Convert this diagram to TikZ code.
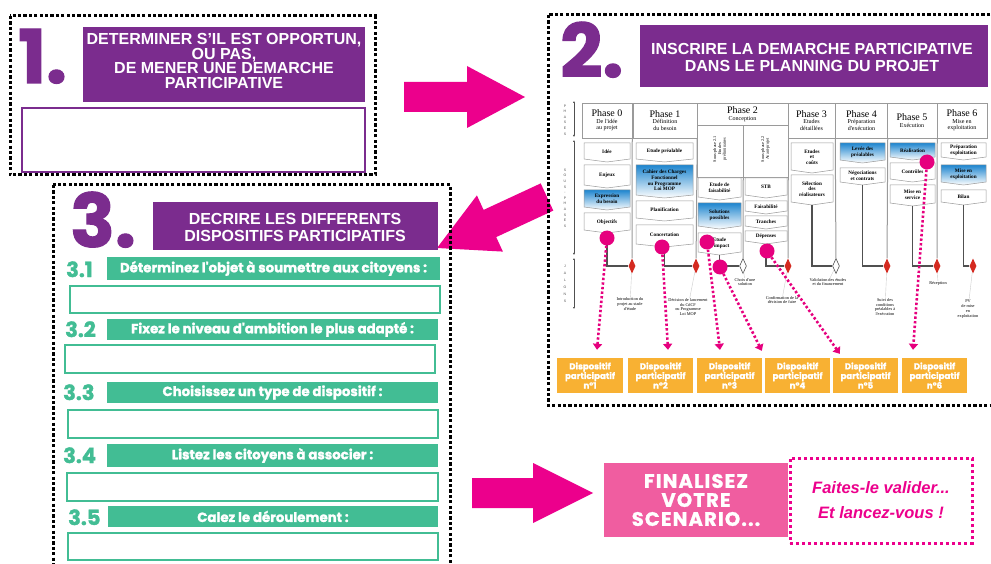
\documentclass[tikz,border=0pt]{standalone}
\usepackage{fontspec}
\setmainfont{Liberation Sans}
\newfontfamily\dispfont{Poppins}
\newfontfamily\numfont{Poppins}[FakeBold=1.5]
\newfontfamily\finfont{Poppins}[FakeBold=1.2,LetterSpace=6]
\newfontfamily\serfont{Liberation Serif}
\newcommand\phtitlefont{\serfont\fontsize{10}{10.5}\selectfont}
\usetikzlibrary{shapes.geometric,arrows.meta}
\definecolor{purp}{HTML}{7B2C8E}
\definecolor{grn}{HTML}{42BD94}
\definecolor{mag}{HTML}{EC008C}
\definecolor{pinkc}{HTML}{E6007E}
\definecolor{pinkbox}{HTML}{F05DA0}
\definecolor{amber}{HTML}{F8B133}
\definecolor{blueA}{HTML}{1F86CF}
\definecolor{lgray}{HTML}{9A9A9A}
\definecolor{dgray}{HTML}{505050}
\definecolor{dred}{HTML}{D42A20}
\tikzset{
  frame/.style={draw=black,line width=3pt,dash pattern=on 3.2pt off 2.2pt},
  pframe/.style={draw=mag,line width=3pt,dash pattern=on 3.4pt off 2.6pt},
  purplebox/.style={fill=purp,inner sep=0,draw=none},
  purpletext/.style={text=white,font=\bfseries\fontsize{16}{14.5}\selectfont,align=center,inner sep=0},
  bignum/.style={text=purp,font=\numfont\bfseries\fontsize{74}{74}\selectfont,inner sep=0,anchor=base west},
  subnum/.style={text=grn,font=\numfont\bfseries\fontsize{21}{21}\selectfont,inner sep=0,anchor=base west},
  gbar/.style={fill=grn,text=white,font=\numfont\bfseries\fontsize{13.3}{14}\selectfont,inner sep=0},
  gbox/.style={draw=grn,line width=1.6pt,fill=white,inner sep=0},
  wbox/.style={draw=purp,line width=1.3pt,fill=white,inner sep=0},
  phead/.style={draw=lgray,line width=0.5pt,fill=white,inner sep=0,align=center,font=\serfont\fontsize{6}{6.6}\selectfont},
  tbshape/.style={draw=lgray,line width=0.5pt,fill=white},
  bluesh/.style={top color=blueA,bottom color=white},
  tbtxt/.style={inner sep=0,align=center,font=\serfont\bfseries\fontsize{5.2}{5.6}\selectfont},
  reddia/.style={diamond,fill=dred,inner sep=0,minimum width=7pt,minimum height=15pt},
  whitedia/.style={diamond,draw=dgray,fill=white,line width=0.6pt,inner sep=0,minimum width=7pt,minimum height=15pt},
  divline/.style={draw=lgray,line width=1pt},
  flowline/.style={draw=dgray,line width=1.2pt},
  msline/.style={draw=lgray!50,line width=0.4pt},
  mstxt/.style={inner sep=0,align=center,font=\serfont\fontsize{4.3}{4.9}\selectfont},
  axtxt/.style={inner sep=0,align=center,font=\fontsize{3.5}{5.6}\selectfont,text=dgray},
  axline/.style={draw=dgray,line width=0.6pt,{Latex[length=2pt,width=2pt]}-{Latex[length=2pt,width=2pt]}},
  pdot/.style={circle,fill=pinkc,minimum size=15pt,inner sep=0},
  parrow/.style={draw=pinkc,line width=2.6pt,dash pattern=on 2.4pt off 2.2pt,-{Triangle[length=6pt,width=9pt]}},
  dispo/.style={fill=amber,text=white,inner sep=0,minimum width=66pt,minimum height=35pt,align=center,font=\numfont\bfseries\fontsize{8.6}{9.6}\selectfont},
}
\newcommand\tabbox[7]{%
  \path[tbshape,#6] (#2,#3) -- (#4,#3) -- (#4,#5-3) -- ({(#2+#4)/2},#5) -- (#2,#5-3) -- cycle;
  \coordinate (#1-b) at ({(#2+#4)/2},#5);
  \node[tbtxt] (#1) at ({(#2+#4)/2},{(#3+#5)/2-1}) {#7};}
\begin{document}
\begin{tikzpicture}[x=1pt,y=-1pt]
\useasboundingbox (0,0) rectangle (991,564);
\fill[white] (0,0) rectangle (991,564);

% big magenta arrows
\fill[mag] (404,82) -- (467,82) -- (467,66) -- (525,97) -- (467,128) -- (467,112) -- (404,112) -- cycle;
\fill[mag] (553.3,210.6) -- (496.2,237.1) -- (502.9,251.6) -- (437,248) -- (476.9,195.4) -- (483.6,209.9) -- (540.7,183.4) -- cycle;
\fill[mag] (472,478) -- (533,478) -- (533,463) -- (593,493) -- (533,523) -- (533,508) -- (472,508) -- cycle;

% frames
\draw[frame] (10,16) rectangle (375,175);
\draw[frame] (548,15) rectangle (1000,405);
\draw[frame] (53,185) rectangle (450,575);

% ---- block 1
\node[bignum] (n1) at (18,83) {1.};
\node[purplebox,minimum width=282pt,minimum height=75pt] (h1) at (224,64.5) {};
\node[purpletext] (h1t) at (224,61) {DETERMINER S'IL EST OPPORTUN,\\OU PAS,\\DE MENER UNE DEMARCHE\\PARTICIPATIVE};
\node[wbox,minimum width=343pt,minimum height=64pt] (ans1) at (193.5,140) {};

% ---- block 2
\node[bignum] (n2) at (560,77) {2.};
\node[purplebox,minimum width=348pt,minimum height=62pt] (h2) at (814,56) {};
\node[purpletext,font=\bfseries\fontsize{16}{17}\selectfont] (h2t) at (812,57) {INSCRIRE LA DEMARCHE PARTICIPATIVE\\DANS LE PLANNING DU PROJET};

% left axis
\draw[axline] (574,101) -- (574,137);
\draw[axline] (574,140) -- (574,255);
\draw[axline] (574,258) -- (574,309);
\node[axtxt] (axp) at (565,120) {P\\H\\A\\S\\E\\S};
\node[axtxt] (axs) at (565,198) {S\\O\\U\\S\\-\\P\\H\\A\\S\\E\\S};
\node[axtxt,font=\fontsize{3.5}{7}\selectfont] (axj) at (565,284) {J\\A\\L\\O\\N\\S};

% phase headers
\node[phead,minimum width=50pt,minimum height=35pt] (ph0) at (607,120.5) {{\phtitlefont Phase 0}\\De l'idée\\au projet};
\node[phead,minimum width=64pt,minimum height=35pt] (ph1) at (665,120.5) {{\phtitlefont Phase 1}\\Définition\\du besoin};
\node[phead,minimum width=91pt,minimum height=22pt] (ph2) at (742.5,114) {{\phtitlefont Phase 2}\\Conception};
\node[phead,minimum width=46pt,minimum height=52pt] (sub21) at (720,151) {};
\node[mstxt,rotate=90] (sub21t) at (720,149) {Sous-phase 2.1\\Etudes\\préliminaires};
\node[phead,minimum width=45pt,minimum height=52pt] (sub22) at (765.5,151) {};
\node[mstxt,rotate=90] (sub22t) at (765.5,149) {Sous-phase 2.2\\Avant-projet};
\node[phead,minimum width=47pt,minimum height=35pt] (ph3) at (811.5,120.5) {{\phtitlefont Phase 3}\\Etudes\\détaillées};
\node[phead,minimum width=52pt,minimum height=35pt] (ph4) at (861.5,120.5) {{\phtitlefont Phase 4}\\Préparation\\d'exécution};
\node[phead,minimum width=50pt,minimum height=35pt] (ph5) at (912,120.5) {{\phtitlefont Phase 5}\\Exécution};
\node[phead,minimum width=50pt,minimum height=35pt] (ph6) at (962,120.5) {{\phtitlefont Phase 6}\\Mise en\\exploitation};

% boxes
\tabbox{idee}{584}{143}{630}{162}{}{Idée}
\tabbox{enjeux}{584}{165}{630}{188}{}{Enjeux}
\tabbox{besoin}{584}{190}{630}{210}{bluesh}{Expression\\du besoin}
\tabbox{objectifs}{584}{213}{630}{233}{}{Objectifs}
\tabbox{etpre}{636}{143}{693}{162}{}{Etude préalable}
\tabbox{cdcf}{636}{165}{693}{198}{bluesh}{Cahier des Charges\\Fonctionnel\\ou Programme\\Loi MOP}
\tabbox{planif}{636}{201}{693}{221}{}{Planification}
\tabbox{concert}{636}{225}{693}{247}{}{Concertation}
\tabbox{faisab}{698}{178}{741}{200}{}{Etude de\\faisabilité}
\tabbox{solut}{698}{203}{741}{229}{bluesh}{Solutions\\possibles}
\tabbox{impact}{698}{233}{741}{255}{}{Etude\\d'impact}
\tabbox{stb}{745}{178}{787}{198}{}{STB}
\tabbox{faisa}{745}{201}{787}{214}{}{Faisabilité}
\tabbox{tranch}{745}{216}{787}{229}{}{Tranches}
\tabbox{depens}{745}{231}{787}{244}{}{Dépenses}
\tabbox{etcout}{791}{143}{833}{173}{}{Etudes\\et\\coûts}
\tabbox{selec}{791}{175}{833}{205}{}{Sélection\\des\\réalisateurs}
\tabbox{levee}{840}{143}{885}{163}{bluesh}{Levée des\\préalables}
\tabbox{negoc}{840}{168}{885}{185}{}{Négociations\\et contrats}
\tabbox{realis}{890}{143}{935}{160}{bluesh}{Réalisation}
\tabbox{contr}{890}{163}{935}{182}{}{Contrôles}
\tabbox{serv}{890}{185}{935}{206}{}{Mise en\\service}
\tabbox{prepa}{941}{143}{986}{160}{}{Préparation\\exploitation}
\tabbox{miseex}{941}{165}{986}{185}{bluesh}{Mise en\\exploitation}
\tabbox{bilan}{941}{190}{986}{205}{}{Bilan}

% milestones
\node[reddia] (d1) at (632,266) {};
\node[reddia] (d2) at (696,266) {};
\node[whitedia] (d3) at (743,266) {};
\node[reddia] (d4) at (788,266) {};
\node[whitedia] (d5) at (836,266) {};
\node[reddia] (d6) at (887,266) {};
\node[reddia] (d7) at (937,266) {};
\node[reddia] (d8) at (973,266) {};

\draw[divline] (ph0.south east) -- (d1);
\draw[divline] (ph1.south east) -- (d2);
\draw[divline] (sub21.south east) -- (d3);
\draw[divline] (sub22.south east) -- (d4);
\draw[divline] (ph3.south east) -- (d5);
\draw[divline] (ph4.south east) -- (d6);
\draw[divline] (ph5.south east) -- (d7);

\draw[flowline] (objectifs-b) |- (d1);
\draw[flowline] (concert-b) |- (d2);
\draw[flowline] (impact-b) |- (d3);
\draw[flowline] (depens-b) |- (d4);
\draw[flowline] (selec-b) |- (d5);
\draw[flowline] (negoc-b) |- (d6);
\draw[flowline] (serv-b) |- (d7);
\draw[flowline] (bilan-b) |- (d8);

\node[mstxt] (m1) at (630,304) {Introduction du\\projet au stade\\d'étude};
\node[mstxt] (m2) at (688,307) {Décision de lancement\\du CdCF\\ou Programme\\Loi MOP};
\node[mstxt] (m3) at (745,282) {Choix d'une\\solution};
\node[mstxt] (m4) at (782,300) {Confirmation de la\\décision de faire};
\node[mstxt] (m5) at (828,282) {Validation des études\\et du financement};
\node[mstxt] (m6) at (885,307) {Suivi des\\conditions\\préalables à\\l'exécution};
\node[mstxt] (m7) at (938,283) {Réception};
\node[mstxt] (m8) at (968,309) {PV\\de mise\\en\\exploitation};
\draw[msline] (d1) -- (m1);
\draw[msline] (d2) -- (m2);
\draw[msline] (d3) -- (m3);
\draw[msline] (d4) -- (m4);
\draw[msline] (d5) -- (m5);
\draw[msline] (d6) -- (m6);
\draw[msline] (d7) -- (m7);
\draw[msline] (d8) -- (m8);

% dispositifs
\node[dispo] (dp1) at (590,375.5) {Dispositif\\participatif\\n°1};
\node[dispo,minimum width=65pt] (dp2) at (660.5,375.5) {Dispositif\\participatif\\n°2};
\node[dispo,minimum width=65pt] (dp3) at (729.5,375.5) {Dispositif\\participatif\\n°3};
\node[dispo,minimum width=65pt] (dp4) at (797.5,375.5) {Dispositif\\participatif\\n°4};
\node[dispo,minimum width=65pt] (dp5) at (865.5,375.5) {Dispositif\\participatif\\n°5};
\node[dispo,minimum width=65pt] (dp6) at (934.5,375.5) {Dispositif\\participatif\\n°6};

\node[pdot] (c1) at (607,238) {};
\node[pdot] (c2) at (662,247) {};
\node[pdot] (c3) at (707,242) {};
\node[pdot] (c4) at (720,267) {};
\node[pdot] (c5) at (767,251) {};
\node[pdot] (c6) at (927,162) {};
\draw[parrow] (c1) -- ([xshift=7pt,yshift=8pt]dp1.north);
\draw[parrow] (c2) -- ([xshift=7.5pt,yshift=8pt]dp2.north);
\draw[parrow] (c3) -- ([xshift=-9.5pt,yshift=8pt]dp3.north);
\draw[parrow] (c4) -- ([xshift=-3pt,yshift=7pt]dp4.north west);
\draw[parrow] (c5) -- ([xshift=7pt,yshift=4pt]dp5.north west);
\draw[parrow] (c6) -- ([xshift=-21.5pt,yshift=8pt]dp6.north);

% ---- block 3
\node[bignum] (n3) at (70,247) {3.};
\node[purplebox,minimum width=285pt,minimum height=48pt] (h3) at (295.5,226) {};
\node[purpletext,font=\bfseries\fontsize{16}{17}\selectfont] (h3t) at (295,227) {DECRIRE LES DIFFERENTS\\DISPOSITIFS PARTICIPATIFS};

\node[subnum] (n31) at (66,277) {3.1};
\node[gbar,minimum width=333pt,minimum height=23pt] (b1) at (273.5,268.5) {Déterminez l'objet à soumettre aux citoyens :};
\node[gbox,minimum width=370pt,minimum height=27pt] (r1) at (255,299.5) {};
\node[subnum] (n32) at (65,337) {3.2};
\node[gbar,minimum width=331pt,minimum height=21pt] (b2) at (272.5,329.5) {Fixez le niveau d'ambition le plus adapté :};
\node[gbox,minimum width=370pt,minimum height=28pt] (r2) at (250,359) {};
\node[subnum] (n33) at (63,400) {3.3};
\node[gbar,minimum width=331pt,minimum height=21pt] (b3) at (272.5,392.5) {Choisissez un type de dispositif :};
\node[gbox,minimum width=370pt,minimum height=28pt] (r3) at (253,424) {};
\node[subnum] (n34) at (63,463) {3.4};
\node[gbar,minimum width=331pt,minimum height=23pt] (b4) at (272.5,455.5) {Listez les citoyens à associer :};
\node[gbox,minimum width=371pt,minimum height=28pt] (r4) at (252.5,487) {};
\node[subnum] (n35) at (68,525) {3.5};
\node[gbar,minimum width=330pt,minimum height=21pt] (b5) at (273,516.5) {Calez le déroulement :};
\node[gbox,minimum width=370pt,minimum height=27pt] (r5) at (253,546.5) {};

% ---- final
\node[fill=pinkbox,minimum width=184pt,minimum height=74pt,text=white,font=\finfont\bfseries\fontsize{19.5}{19}\selectfont,align=center,inner sep=0] (fin) at (696,500) {FINALISEZ\\VOTRE\\SCENARIO...};
\node[pframe,minimum width=182pt,minimum height=85pt,text=mag,font=\bfseries\itshape\fontsize{16.5}{15}\selectfont,align=center,inner sep=0] (valid) at (881,500.5) {Faites-le valider...\\[10pt]Et lancez-vous !};
\end{tikzpicture}
\end{document}
